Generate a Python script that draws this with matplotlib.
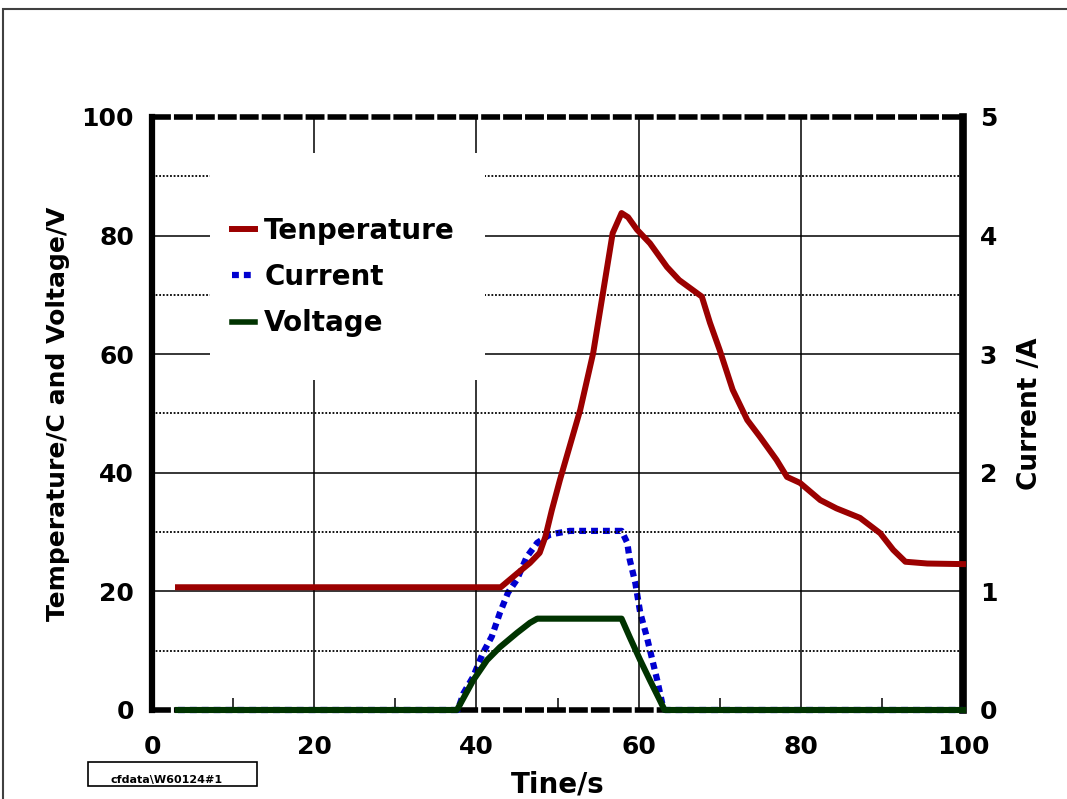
import numpy as np
import matplotlib
matplotlib.use("Agg")
import matplotlib.pyplot as plt
from matplotlib.patches import Rectangle
from matplotlib.lines import Line2D

# data
temp_t = [3.2, 43, 45, 46.6, 47.8, 48.5, 49.3, 50.3, 52.8, 54.4, 55.6, 56.8, 57.9,
          58.7, 59.8, 61.4, 63.5, 65, 66.7, 67.8, 68.8, 70, 71.6, 73.4, 75, 77,
          78.3, 79.9, 82.4, 84.4, 87.3, 89.8, 91.4, 92.9, 95.6, 100]
temp_v = [20.7, 20.7, 23.0, 24.8, 26.5, 29.2, 33.7, 38.8, 50.6, 60.2, 70.3, 80.4, 83.8,
          83.1, 81, 78.7, 74.7, 72.5, 70.8, 69.7, 65.3, 60.7, 54, 48.9, 46, 42.2,
          39.3, 38.3, 35.4, 34, 32.4, 29.8, 27, 25, 24.7, 24.6]

curr_t = [3.2, 37.7, 38.4, 39.6, 40.8, 41.9, 42.9, 43.9, 45, 46.2, 47.5, 49.1, 51.5,
          57.9, 58.6, 58.9, 59.6, 60.2, 61, 61.7, 62.3, 62.9, 63.3, 100]
curr_v = [0, 0, 0.14, 0.28, 0.48, 0.62, 0.82, 0.99, 1.1, 1.29, 1.41, 1.48, 1.51,
          1.51, 1.41, 1.27, 1.07, 0.82, 0.62, 0.42, 0.25, 0.06, 0, 0]

volt_t = [3.2, 37.6, 39.6, 41.3, 42.9, 45, 46.6, 47.5, 57.9, 58.9, 60.2, 61.4, 62.6, 63.2, 100]
volt_v = [0, 0, 5, 8.4, 10.6, 13, 14.7, 15.4, 15.4, 12.3, 8.4, 5, 1.7, 0, 0]

x_ticks = [0, 20, 40, 60, 80, 100]
y_ticks = [0, 20, 40, 60, 80, 100]
y2_ticks = [0, 1, 2, 3, 4, 5]

red = "#9B0000"
blue = "#0000D0"
green = "#003300"

fig = plt.figure(figsize=(10.67, 7.99), dpi=100)
ax = fig.add_axes([0.1425, 0.1114, 0.76, 0.7422])
ax2 = ax.twinx()
# main axes on top so the current line sits under the others
ax.set_zorder(ax2.get_zorder() + 1)
ax.patch.set_visible(False)

ax.set_xlim(0, 100)
ax.set_ylim(0, 100)
ax2.set_ylim(0, 5)

# grid
for v in [20, 40, 60, 80]:
    ax.axvline(v, color="black", lw=1.1, zorder=0.5)
    ax.axhline(v, color="black", lw=1.1, zorder=0.5)
for v in [10, 30, 50, 70, 90]:
    ax.axhline(v, color="black", lw=1.3, ls=(0, (1, 1)), zorder=0.5)

# white block behind legend
ax.add_patch(Rectangle((0.0715, 0.5565), 0.339, 0.383, transform=ax.transAxes,
                       facecolor="white", edgecolor="none", zorder=1))

ax2.plot(curr_t, curr_v, color=blue, lw=4.5, ls=(0, (1.1, 0.8)), clip_on=False, zorder=3)
ax.plot(volt_t, volt_v, color=green, lw=4.4, clip_on=False, zorder=3)
ax.plot(temp_t, temp_v, color=red, lw=4.3, clip_on=False, zorder=4)

# spines
for s in ["left", "right", "top", "bottom"]:
    ax.spines[s].set_visible(False)
ax2.spines["left"].set_linewidth(4.5)
ax2.spines["right"].set_linewidth(5.5)
for s in ["top", "bottom"]:
    ax2.spines[s].set_linewidth(4.0)
    ax2.spines[s].set_capstyle("butt")
    ax2.spines[s].set_linestyle((0, (3.4, 0.55)))

# ticks
ax.set_xticks(x_ticks)
ax.set_yticks(y_ticks)
ax.set_xticks([10, 30, 50, 70, 90], minor=True)
ax.tick_params(axis="x", which="major", direction="in", length=0, pad=18)
ax.tick_params(axis="x", which="minor", direction="in", length=9, width=1.1, top=False)
ax.tick_params(axis="y", which="major", direction="in", length=0, pad=13)
ax2.set_yticks(y2_ticks)
ax2.tick_params(axis="y", direction="in", length=0, pad=12)
for lab in ax.get_xticklabels() + ax.get_yticklabels() + ax2.get_yticklabels():
    lab.set_fontsize(18)
    lab.set_fontweight("bold")

ax.set_xlabel("Tine/s", fontsize=20, fontweight="bold", labelpad=8)
ax.set_ylabel("Temperature/C and Voltage/V", fontsize=18, fontweight="bold", labelpad=8)
ax2.set_ylabel("Current /A", fontsize=19, fontweight="bold", labelpad=14)

handles = [Line2D([], [], color=red, lw=4.3),
           Line2D([], [], color=blue, lw=4.5, ls=(0, (1.1, 0.8))),
           Line2D([], [], color=green, lw=4.0)]
leg = ax.legend(handles, ["Tenperature", "Current", "Voltage"], loc="upper left",
                bbox_to_anchor=(0.098, 0.832), frameon=False, borderpad=0, borderaxespad=0,
                handlelength=0.86, handletextpad=0.32, labelspacing=0.66,
                prop={"size": 20, "weight": "bold"})
leg.set_zorder(5)

# outer frame and file tag
fig.add_artist(Rectangle((3 / 1067, -0.5), 2, 0.5 + 1 - 9 / 799, transform=fig.transFigure,
                         fill=False, edgecolor="#404040", lw=1.5))
fig.add_artist(Rectangle((0.0825, 0.0163), 0.1584, 0.030, transform=fig.transFigure,
                         fill=False, edgecolor="black", lw=1.2))
fig.text(0.1565, 0.0235, "cfdata\\W60124#1", fontsize=8, fontweight="bold",
         ha="center", va="center")

fig.savefig("out.png", dpi=100)
